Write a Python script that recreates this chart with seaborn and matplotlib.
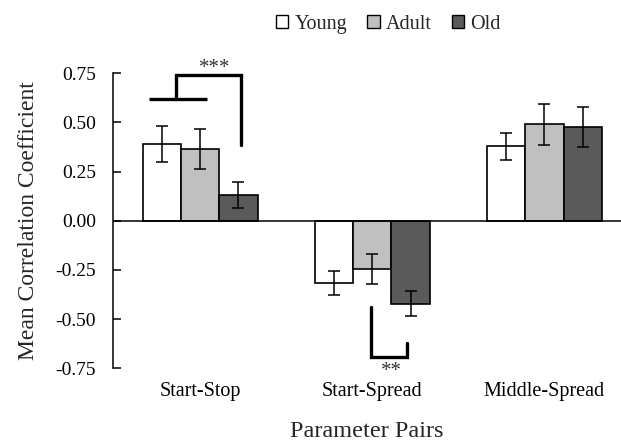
import matplotlib
matplotlib.use("Agg")
import matplotlib.pyplot as plt
import seaborn as sns
import pandas as pd
import numpy as np
from matplotlib.patches import Patch

# ---- data ----
categories = ["Start-Stop", "Start-Spread", "Middle-Spread"]
groups = ["Young", "Adult", "Old"]
young_vals = [0.39, -0.315, 0.378]
adult_vals = [0.366, -0.245, 0.491]
old_vals = [0.131, -0.421, 0.477]
young_err = [0.09, 0.062, 0.07]
adult_err = [0.10, 0.076, 0.105]
old_err = [0.065, 0.065, 0.10]
y_ticks = [-0.75, -0.50, -0.25, 0.00, 0.25, 0.50, 0.75]
colors = ["#ffffff", "#c0c0c0", "#5a5a5a"]

# significance brackets (data coords) and labels
bracket1_x = [-0.30, 0.04, None, -0.14, -0.14, 0.237, 0.237]
bracket1_y = [0.619, 0.619, None, 0.619, 0.741, 0.741, 0.383]
bracket2_x = [0.992, 0.992, 1.202, 1.202]
bracket2_y = [-0.44, -0.69, -0.69, -0.622]
star1 = ("***", 0.087, 0.772)
star2 = ("**", 1.11, -0.765)

vals = {"Young": young_vals, "Adult": adult_vals, "Old": old_vals}
errs = {"Young": young_err, "Adult": adult_err, "Old": old_err}
rows = []
for g in groups:
    for c, v in zip(categories, vals[g]):
        rows.append({"pair": c, "group": g, "value": v})
df = pd.DataFrame(rows)

sns.set_style("white")
plt.rcParams["font.family"] = ["Liberation Serif", "DejaVu Serif"]

fig = plt.figure(figsize=(6.21, 4.46), dpi=100)
ax = fig.add_axes([0.1815, 0.1742, 1.0 - 0.1815, 0.6614])

sns.barplot(data=df, x="pair", y="value", hue="group", order=categories,
            hue_order=groups, palette=colors, width=0.667, errorbar=None,
            edgecolor="black", linewidth=1.2, saturation=1, legend=False, ax=ax)

for cont, g in zip(ax.containers, groups):
    xs = [p.get_x() + p.get_width() / 2 for p in cont.patches]
    ax.errorbar(xs, vals[g], yerr=errs[g], fmt="none", ecolor="black",
                elinewidth=1.1, capsize=4, capthick=1.1, zorder=5)

ax.axhline(0, color="black", lw=1.1, zorder=4)
ax.set_xlim(-0.508, 2.445)
ax.set_ylim(-0.75, 0.75)
ax.set_yticks(y_ticks)
ax.set_yticklabels([f"{t:.2f}" for t in y_ticks])

for s in ["top", "right", "bottom"]:
    ax.spines[s].set_visible(False)
ax.spines["left"].set_color("black")
ax.spines["left"].set_linewidth(1.1)
ax.tick_params(axis="y", direction="in", length=6, width=1.1, pad=12,
               labelsize=14, left=True, colors="black")
ax.tick_params(axis="x", length=0, pad=10, labelsize=14.5, colors="black")

ax.set_ylabel("Mean Correlation Coefficient", fontsize=17, labelpad=12)
ax.set_xlabel("Parameter Pairs", fontsize=17.5, labelpad=14)

# brackets
ax.plot(bracket1_x[:2], bracket1_y[:2], color="black", lw=2.4, clip_on=False, solid_capstyle="butt")
ax.plot(bracket1_x[3:], bracket1_y[3:], color="black", lw=2.4, clip_on=False, solid_joinstyle="miter")
ax.plot(bracket2_x, bracket2_y, color="black", lw=2.4, clip_on=False, solid_joinstyle="miter")
ax.text(star1[1], star1[2], star1[0], ha="center", va="center", fontsize=15, color="#333333")
ax.text(star2[1], star2[2], star2[0], ha="center", va="center", fontsize=15, color="#333333")

handles = [Patch(facecolor=c, edgecolor="black", linewidth=1.0) for c in colors]
fig.legend(handles, groups, loc="center", bbox_to_anchor=(0.625, 0.945), ncol=3,
           frameon=False, fontsize=14.5, handlelength=0.62, handleheight=0.62,
           handletextpad=0.3, columnspacing=1.0, borderaxespad=0, borderpad=0)

fig.savefig("out.png", dpi=100)
